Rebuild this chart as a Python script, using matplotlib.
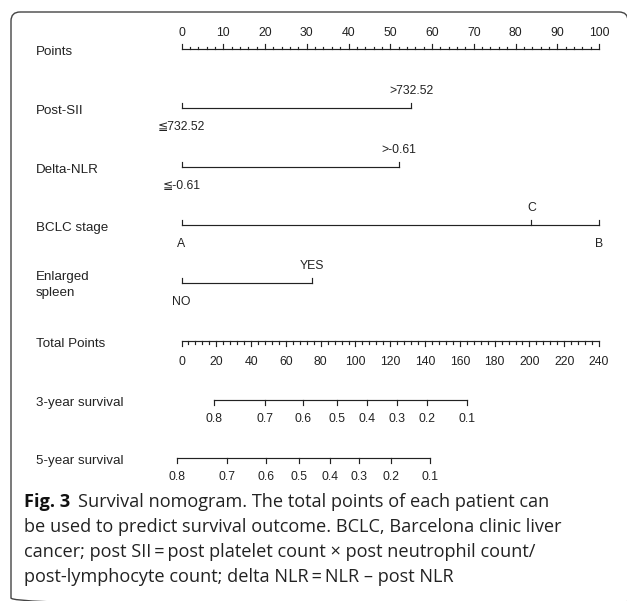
import matplotlib
matplotlib.use("Agg")
import matplotlib.pyplot as plt
import matplotlib.transforms as mtransforms
from matplotlib.patches import FancyBboxPatch

W, H = 627, 601

# Points scale (0-100)
points_major = list(range(0, 101, 10))
points_minor = list(range(0, 101, 2))

# predictor levels and their points
sii_labels = ["\u2266732.52", ">732.52"]
sii_points = [0, 55.0]
nlr_labels = ["\u2266-0.61", ">-0.61"]
nlr_points = [0, 52.0]
bclc_labels = ["A", "C", "B"]
bclc_points = [0, 83.8, 100]
spleen_labels = ["NO", "YES"]
spleen_points = [0, 31.3]

# total points scale
total_max = 240
total_major = list(range(0, 241, 20))
total_minor = list(range(0, 241, 4))

# survival probabilities vs total points
surv_probs = ["0.8", "0.7", "0.6", "0.5", "0.4", "0.3", "0.2", "0.1"]
surv3_total = [18.7, 47.8, 70.0, 89.2, 106.8, 123.7, 141.3, 164.1]
surv5_total = [-2.8, 26.3, 48.6, 67.7, 85.4, 102.2, 120.3, 142.9]

row_names = ["Points", "Post-SII", "Delta-NLR", "BCLC stage", "Enlarged\nspleen",
             "Total Points", "3-year survival", "5-year survival"]

lc = "#222222"
lw = 0.85
sans = ["Liberation Sans", "DejaVu Sans"]
lab_size = 9.6
tick_size = 8.8

fig = plt.figure(figsize=(W / 100, H / 100), dpi=100)
ax = fig.add_axes([0, 0, 1, 1])
# x in points units: 0 -> px 181.5, 100 -> px 599
x0, s = 181.5, 4.175
ax.set_xlim(-x0 / s, (W - x0) / s)
ax.set_ylim(H, 0)
ax.axis("off")

pix = mtransforms.Affine2D().scale(1, -1).translate(0, H)

rows_y = [49, 108, 167, 225, 283, 341, 400, 458]

# left labels
for name, y in zip(row_names, rows_y):
    ax.text(36, y + 3 if "\n" not in name else y + 2, name, transform=pix,
            family=sans, fontsize=lab_size, va="center", ha="left",
            color=lc, linespacing=1.45)

# Points axis
y = rows_y[0]
ax.plot([0, 100], [y, y], color=lc, lw=lw)
for p in points_minor:
    ln = 5 if p in points_major else 2.5
    ax.plot([p, p], [y, y - ln], color=lc, lw=lw)
for p in points_major:
    ax.text(p, y - 16, str(p), family=sans, fontsize=tick_size,
            ha="center", va="center", color=lc)


def cat_axis(y, labels, pts):
    ax.plot([min(pts), max(pts)], [y, y], color=lc, lw=lw)
    order = sorted(zip(pts, labels))
    for i, (p, lab) in enumerate(order):
        ax.plot([p, p], [y, y - 5], color=lc, lw=lw)
        ty = y + 19 if i % 2 == 0 else y - 17
        ax.text(p, ty, lab, family=sans, fontsize=tick_size,
                ha="center", va="center", color=lc)


cat_axis(rows_y[1], sii_labels, sii_points)
cat_axis(rows_y[2], nlr_labels, nlr_points)
cat_axis(rows_y[3], bclc_labels, bclc_points)
cat_axis(rows_y[4], spleen_labels, spleen_points)

# Total points axis
k = 100 / total_max
y = rows_y[5]
ax.plot([0, 100], [y, y], color=lc, lw=lw)
for t in total_minor:
    ln = 5 if t in total_major else 3
    ax.plot([t * k, t * k], [y, y + ln], color=lc, lw=lw)
for t in total_major:
    ax.text(t * k, y + 21, str(t), family=sans, fontsize=tick_size,
            ha="center", va="center", color=lc)


def surv_axis(y, totals, labels):
    xs = [t * k for t in totals]
    ax.plot([min(xs), max(xs)], [y, y], color=lc, lw=lw)
    for xv, lab in zip(xs, labels):
        ax.plot([xv, xv], [y, y + 5], color=lc, lw=lw)
        ax.text(xv, y + 18.5, lab, family=sans, fontsize=tick_size,
                ha="center", va="center", color=lc)


surv_axis(rows_y[6], surv3_total, surv_probs)
surv_axis(rows_y[7], surv5_total, surv_probs)

# frame
box = FancyBboxPatch((11, 12), 617, 595, boxstyle="round,pad=0,rounding_size=9",
                     transform=pix, fill=False, lw=1.0, ec="#444444", clip_on=False)
ax.add_patch(box)

# caption
cap_font = ["Open Sans", "DejaVu Sans"]
cap_size = 13.1
cap_lines = [
    "Survival nomogram. The total points of each patient can",
    "be used to predict survival outcome. BCLC, Barcelona clinic liver",
    "cancer; post SII\u2009=\u2009post platelet count \u00d7 post neutrophil count/",
    "post-lymphocyte count; delta NLR\u2009=\u2009NLR \u2013 post NLR",
]
cap_y = [502, 527, 552, 577]
fig_lab = ax.text(24, cap_y[0], "Fig. 3", transform=pix, family=cap_font,
                  fontsize=cap_size, fontweight="bold", va="center", ha="left",
                  color="#111111")
fig.canvas.draw()
bb = fig_lab.get_window_extent()
ax.text(bb.x1 + 8, cap_y[0], cap_lines[0], transform=pix, family=cap_font,
        fontsize=cap_size, va="center", ha="left", color="#222222")
for line, y in zip(cap_lines[1:], cap_y[1:]):
    ax.text(24, y, line, transform=pix, family=cap_font, fontsize=cap_size,
            va="center", ha="left", color="#222222")

fig.savefig("out.png", dpi=100)
